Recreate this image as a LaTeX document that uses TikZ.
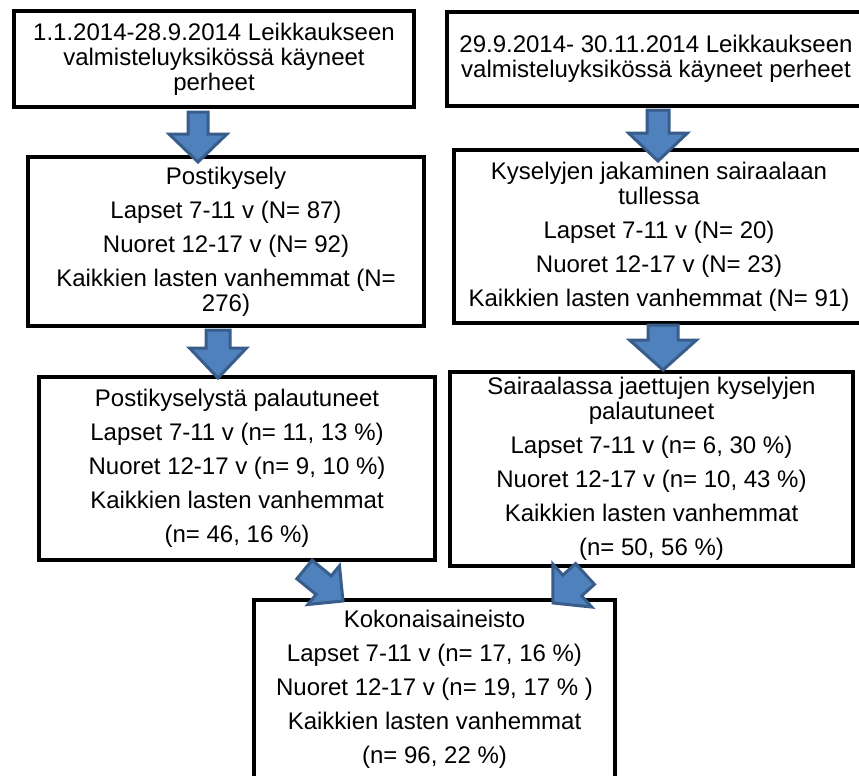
\documentclass[tikz,border=0pt]{standalone}
\usepackage{fontspec}
\setmainfont{Liberation Sans}
\usetikzlibrary{calc}

\definecolor{arrowfill}{HTML}{4F81BD}
\definecolor{arrowline}{HTML}{385D8A}

% fat arrow: start, end, half shaft, half head, head length
\newcommand{\blockarrow}[5]{%
	\coordinate (ba-head) at ($(#2)!#5!(#1)$);
	\draw[fatarrow] ($(#1)!#3!90:(#2)$) -- ($(ba-head)!#3!-90:(#1)$) -- ($(ba-head)!#4!-90:(#1)$) -- (#2)
		-- ($(ba-head)!#4!90:(#1)$) -- ($(ba-head)!#3!90:(#1)$) -- ($(#1)!#3!-90:(#2)$) -- cycle;}

\begin{document}
\begin{tikzpicture}[x=1pt, y=-1pt,
	stage/.style={rectangle, draw=black, line width=4pt, fill=white, align=center, inner sep=0pt, font=\fontsize{24}{25}\selectfont},
	fatarrow/.style={draw=arrowline, fill=arrowfill, line width=3pt},
	]
	\clip (0, 0) rectangle (859, 776);
	\fill[white] (0, 0) rectangle (859, 776);
	
	\node[stage, minimum width=400pt, minimum height=96pt] at (214, 59) (call1) {1.1.2014-28.9.2014 Leikkaukseen\\valmisteluyksikössä käyneet\\perheet};
	\node[stage, minimum width=418pt, minimum height=94pt] at (656, 59) (call2) {29.9.2014- 30.11.2014 Leikkaukseen\\valmisteluyksikössä käyneet perheet};
	
	\node[stage, minimum width=396pt, minimum height=169pt] at (226, 241.5) (post) {Postikysely\\[9pt]Lapset 7-11 v (N= 87)\\[9pt]Nuoret 12-17 v (N= 92)\\[9pt]Kaikkien lasten vanhemmat (N=\\276)};
	\node[stage, minimum width=410pt, minimum height=173pt] at (659, 236.5) (hosp) {Kyselyjen jakaminen sairaalaan\\tullessa\\[9pt]Lapset 7-11 v (N= 20)\\[9pt]Nuoret 12-17 v (N= 23)\\[9pt]Kaikkien lasten vanhemmat (N= 91)};
	
	\node[stage, minimum width=396pt, minimum height=183pt] at (237, 468.5) (postret) {Postikyselystä palautuneet\\[9pt]Lapset 7-11 v (n= 11, 13 \%)\\[9pt]Nuoret 12-17 v (n= 9, 10 \%)\\[9pt]Kaikkien lasten vanhemmat\\[9pt](n= 46, 16 \%)};
	\node[stage, minimum width=403pt, minimum height=194pt] at (651.5, 469) (hospret) {Sairaalassa jaettujen kyselyjen\\palautuneet\\[9pt]Lapset 7-11 v (n= 6, 30 \%)\\[9pt]Nuoret 12-17 v (n= 10, 43 \%)\\[9pt]Kaikkien lasten vanhemmat\\[9pt](n= 50, 56 \%)};
	
	\node[stage, minimum width=361pt, minimum height=178pt] at (434.5, 689) (total) {Kokonaisaineisto\\[9pt]Lapset 7-11 v (n= 17, 16 \%)\\[9pt]Nuoret 12-17 v (n= 19, 17 \% )\\[9pt]Kaikkien lasten vanhemmat\\[9pt](n= 96, 22 \%)};
	
	% arrow ends
	\coordinate (a1) at ($(call1.south)+(-16, 3)$);
	\coordinate (b1) at ($(post.north)+(-28, 7)$);
	\coordinate (a2) at ($(post.south)+(-8, 2)$);
	\coordinate (b2) at ($(postret.north)+(-19, 3)$);
	\coordinate (a3) at ($(call2.south)+(2, 2)$);
	\coordinate (b3) at ($(hosp.north)+(-1, 13)$);
	\coordinate (a4) at ($(hosp.south)+(4, 0)$);
	\coordinate (b4) at ($(hospret.north)+(11.5, 0)$);
	\coordinate (a5) at ($(postret.south)+(67.5, 7.5)$);
	\coordinate (b5) at ($(total.north)+(-91.5, 3)$);
	\coordinate (a6) at ($(hospret.south)+(-66.5, 6)$);
	\coordinate (b6) at ($(total.north)+(118.5, 5)$);
	
	\blockarrow{a1}{b1}{10pt}{29pt}{28pt}
	\blockarrow{a2}{b2}{12pt}{28.5pt}{30pt}
	\blockarrow{a3}{b3}{11pt}{29.5pt}{28pt}
	\blockarrow{a4}{b4}{15pt}{33.5pt}{30pt}
	\blockarrow{a5}{b5}{12pt}{25pt}{25pt}
	\blockarrow{a6}{b6}{14pt}{29pt}{26pt}
\end{tikzpicture}
\end{document}
